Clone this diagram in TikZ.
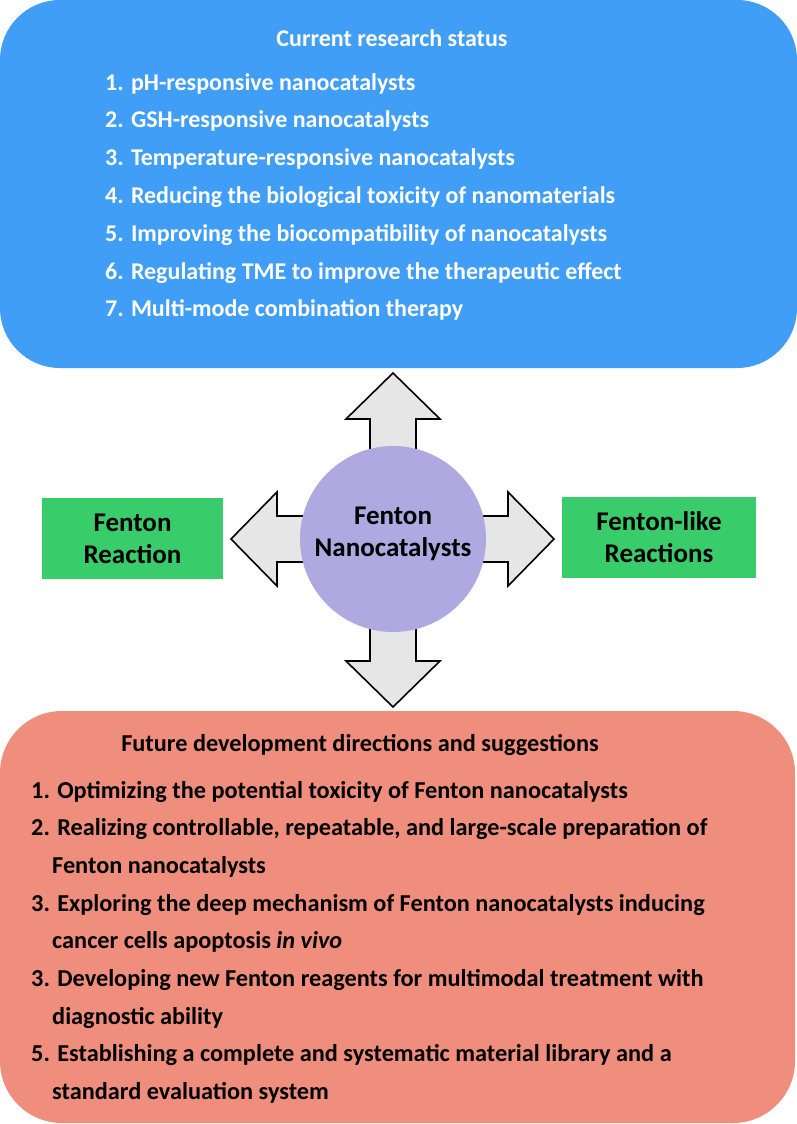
\documentclass[tikz,border=0pt]{standalone}
\usepackage{fontspec}
\setmainfont{Carlito}
\usepackage{tikz}
\usetikzlibrary{calc}
\usepackage{xcolor}
\definecolor{statusblue}{RGB}{65,158,247}
\definecolor{futurered}{RGB}{239,142,124}
\definecolor{reactgreen}{RGB}{56,204,106}
\definecolor{hubviolet}{RGB}{176,168,224}
\definecolor{arrowgray}{RGB}{230,230,230}
\newcommand{\liststep}{37.8}
\newcommand{\statusline}[2]{\node[statustext] (s#1) at (105,{90+\liststep*(#1-1)}) {#2};}
\newcommand{\futureline}[3]{\node[futuretext] (f#1) at (#2,{798+37.7*(#1-1)}) {#3};}
\newcommand{\blockarrow}[2]{\draw[blockarr,shift={(hubc)},rotate=#1] (0,-23) -- (#2-46,-23) -- (#2-46,-47) -- (#2,0) -- (#2-46,47) -- (#2-46,23) -- (0,23) -- cycle;}
\tikzset{
  roundbox/.style={minimum width=#1,inner sep=0pt,outer sep=0pt},
  statustext/.style={anchor=base west,inner sep=0pt,text=white,font=\bfseries\fontsize{24}{28}\selectfont},
  futuretext/.style={anchor=base west,inner sep=0pt,text=black,font=\bfseries\fontsize{24.3}{28}\selectfont},
  reactbox/.style={fill=reactgreen,align=center,inner sep=0pt,minimum height=81pt,font=\bfseries\fontsize{27}{32}\selectfont},
  blockarr/.style={fill=arrowgray,draw=black,line width=1.6pt,line join=miter}
}
\begin{document}
\begin{tikzpicture}[x=1pt,y=-1pt]
        \useasboundingbox (0,0) rectangle (797,1124);

        % boxes
        \node[roundbox=797pt,minimum height=368pt,fill=statusblue,rounded corners=60pt] (status) at (398.5,184) {};
        \node[roundbox=795pt,minimum height=412pt,fill=futurered,rounded corners=62pt] (future) at (397.5,917) {};

        \node[anchor=base,inner sep=0pt,text=white,font=\bfseries\fontsize{24}{28}\selectfont] (statustitle) at (392,47) {Current research status};
        \statusline{1}{1. pH-responsive nanocatalysts}
        \statusline{2}{2. GSH-responsive nanocatalysts}
        \statusline{3}{3. Temperature-responsive nanocatalysts}
        \statusline{4}{4. Reducing the biological toxicity of nanomaterials}
        \statusline{5}{5. Improving the biocompatibility of nanocatalysts}
        \statusline{6}{6. Regulating TME to improve the therapeutic effect}
        \statusline{7}{7. Multi-mode combination therapy}

        % arrows round the hub
        \coordinate (hubc) at (393,539);
        \blockarrow{90}{166}
        \blockarrow{270}{168}
        \blockarrow{180}{162}
        \blockarrow{0}{161}
        \node[circle,fill=hubviolet,minimum size=186pt,inner sep=0pt,align=center,text depth=15pt,font=\bfseries\fontsize{27}{32}\selectfont] (hub) at (hubc) {Fenton\\Nanocatalysts};

        \node[reactbox,minimum width=181pt] (fenton) at (132.5,538.5) {Fenton\\Reaction};
        \node[reactbox,minimum width=194pt] (fentonlike) at (659,537.5) {Fenton-like\\Reactions};

        \node[futuretext,anchor=base] (futuretitle) at (360,751) {Future development directions and suggestions};
        \futureline{1}{31}{1. Optimizing the potential toxicity of Fenton nanocatalysts}
        \futureline{2}{31}{2. Realizing controllable, repeatable, and large-scale preparation of}
        \futureline{3}{52}{Fenton nanocatalysts}
        \futureline{4}{31}{3. Exploring the deep mechanism of Fenton nanocatalysts inducing}
        \futureline{5}{52}{cancer cells apoptosis \textit{in vivo}}
        \futureline{6}{31}{3. Developing new Fenton reagents for multimodal treatment with}
        \futureline{7}{52}{diagnostic ability}
        \futureline{8}{31}{5. Establishing a complete and systematic material library and a}
        \futureline{9}{52}{standard evaluation system}

    \end{tikzpicture}
\end{document}
